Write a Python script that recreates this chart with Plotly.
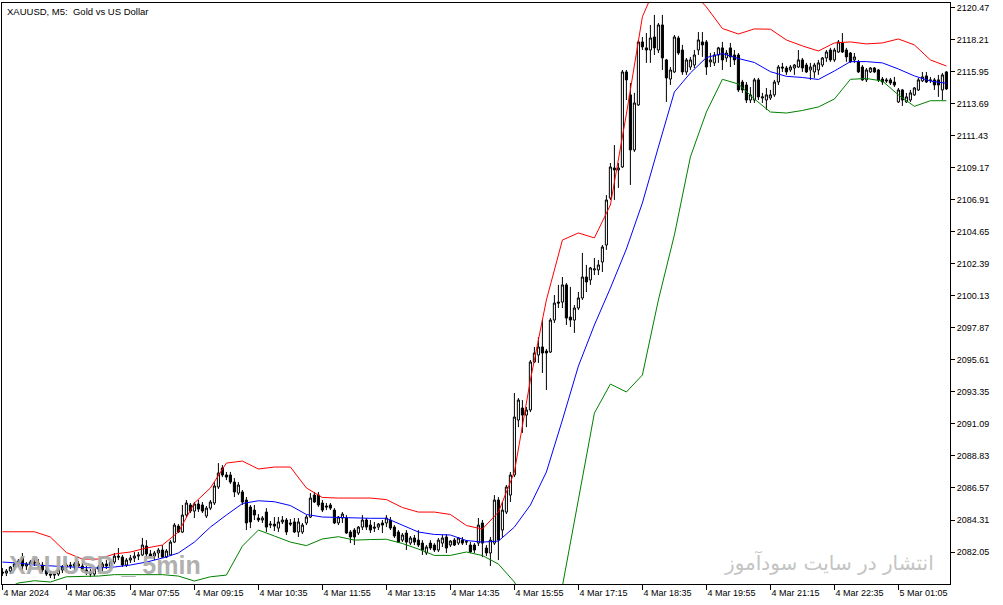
import plotly.graph_objects as go

# ---------------- data ----------------
open_ = [2080.63,2080.56,2080.71,2080.99,2081.20,2081.69,2081.06,2081.20,2081.34,2081.27,
2081.13,2080.78,2080.49,2080.42,2080.49,2080.78,2080.99,2081.13,2081.06,2081.20,
2081.06,2080.78,2080.63,2080.49,2080.85,2080.99,2081.20,2081.06,2081.34,2081.76,
2081.69,2081.13,2081.48,2081.62,2081.76,2081.84,2082.47,2081.91,2081.76,2081.98,
2082.19,2081.69,2081.84,2082.75,2083.88,2083.46,2084.66,2085.37,2084.94,2085.44,
2085.37,2084.59,2085.15,2085.51,2086.64,2087.98,2087.49,2087.49,2086.99,2086.21,
2086.29,2085.72,2085.23,2085.01,2084.45,2084.31,2084.87,2083.95,2084.02,2083.74,
2084.17,2084.31,2084.10,2084.17,2083.46,2083.46,2084.10,2084.52,2086.07,2086.07,
2085.51,2085.30,2085.37,2085.01,2084.10,2084.45,2084.45,2083.46,2083.60,2083.39,
2083.81,2084.31,2083.95,2083.81,2083.81,2084.10,2084.10,2084.31,2083.81,2083.46,
2082.89,2083.39,2082.68,2083.04,2082.89,2082.68,2081.98,2082.68,2082.54,2082.19,
2082.68,2083.11,2082.54,2082.89,2082.68,2082.89,2082.75,2082.54,2082.54,2082.68,
2084.10,2082.33,2081.98,2082.68,2085.72,2083.60,2084.87,2086.07,2087.49,2091.37,
2092.22,2091.72,2092.08,2095.47,2095.96,2096.53,2096.24,2096.17,2098.43,2099.70,
2099.70,2100.91,2098.64,2098.43,2099.28,2099.99,2101.47,2101.26,2101.97,2101.97,
2102.53,2103.73,2107.05,2109.17,2109.03,2109.24,2115.95,2114.33,2110.44,2113.62,
2118.07,2117.65,2117.50,2118.42,2117.50,2119.27,2116.80,2115.45,2115.95,2118.35,
2117.50,2115.95,2116.30,2116.44,2117.50,2118.07,2118.07,2116.66,2116.59,2117.15,
2117.65,2116.94,2117.65,2117.15,2117.15,2115.24,2115.03,2113.97,2113.97,2115.39,
2114.11,2113.97,2114.11,2114.33,2115.24,2116.30,2116.23,2116.09,2116.23,2116.30,
2116.80,2116.44,2116.09,2115.95,2116.09,2116.44,2116.94,2117.50,2116.80,2117.36,
2118.00,2117.50,2117.29,2116.80,2116.66,2116.30,2115.39,2115.95,2116.23,2116.09,
2115.45,2115.39,2115.39,2115.24,2113.83,2114.68,2113.83,2113.97,2114.33,2114.68,
2115.32,2115.67,2115.39,2115.39,2115.39,2114.68,2115.95]

high = [2080.92,2080.85,2081.06,2081.34,2081.55,2081.98,2081.34,2081.48,2081.62,2081.55,
2081.34,2081.06,2080.71,2080.63,2080.92,2081.13,2081.27,2081.34,2081.34,2081.41,
2081.27,2081.06,2080.85,2080.92,2081.13,2081.34,2081.48,2081.41,2081.98,2082.33,
2081.84,2081.62,2081.84,2082.05,2082.05,2083.04,2082.89,2082.19,2082.12,2082.33,
2082.54,2082.26,2082.89,2084.10,2084.02,2085.37,2085.72,2085.51,2085.58,2085.72,
2085.58,2085.30,2085.72,2086.99,2088.33,2088.19,2087.70,2087.70,2087.27,2086.99,
2086.43,2085.93,2085.37,2085.37,2084.73,2084.59,2085.15,2084.24,2084.52,2084.52,
2084.59,2084.45,2084.38,2084.45,2084.45,2084.10,2084.66,2086.21,2086.29,2086.29,
2085.72,2085.51,2085.51,2085.15,2084.59,2084.87,2084.66,2083.60,2083.74,2083.88,
2084.66,2084.45,2084.31,2084.17,2084.10,2084.31,2084.66,2084.52,2083.95,2083.60,
2083.39,2083.60,2083.18,2083.25,2083.60,2082.89,2082.54,2082.89,2082.68,2083.04,
2083.25,2083.32,2082.89,2083.04,2083.11,2083.11,2082.89,2082.75,2082.68,2084.45,
2084.31,2082.54,2083.11,2086.07,2085.93,2085.58,2086.78,2087.70,2093.28,2092.92,
2092.78,2092.29,2095.61,2096.53,2097.23,2098.43,2096.39,2098.57,2100.20,2100.91,
2101.47,2101.05,2100.77,2099.49,2100.41,2103.17,2102.32,2102.18,2102.81,2102.67,
2103.73,2107.26,2109.52,2110.79,2109.52,2116.09,2116.09,2115.17,2114.47,2118.21,
2118.42,2118.70,2119.27,2119.98,2119.41,2119.98,2116.87,2116.30,2118.56,2118.50,
2117.86,2116.94,2117.01,2117.50,2118.77,2118.77,2118.21,2117.29,2117.36,2117.72,
2118.07,2117.50,2118.00,2117.50,2117.29,2115.39,2115.24,2114.89,2115.53,2115.53,
2114.47,2114.82,2114.68,2115.39,2116.44,2116.59,2116.37,2116.44,2116.51,2117.50,
2116.94,2116.59,2116.59,2116.59,2116.80,2117.01,2117.50,2117.65,2117.65,2118.21,
2118.70,2117.65,2117.36,2117.29,2116.80,2116.44,2116.23,2116.30,2116.30,2116.16,
2115.60,2115.53,2115.53,2115.60,2114.82,2114.75,2114.47,2114.68,2114.89,2115.53,
2115.95,2115.95,2115.60,2115.53,2115.74,2115.88,2116.02]

low = [2080.35,2080.35,2080.49,2080.78,2080.99,2080.78,2080.78,2080.99,2081.06,2080.92,
2080.63,2080.35,2080.21,2080.14,2080.35,2080.56,2080.78,2080.85,2080.78,2080.92,
2080.63,2080.42,2080.28,2080.35,2080.63,2080.71,2080.85,2080.85,2081.20,2081.48,
2080.99,2080.99,2081.27,2081.34,2081.48,2081.76,2081.69,2081.62,2081.48,2081.62,
2081.62,2081.62,2081.76,2082.68,2083.39,2083.39,2084.52,2084.80,2084.45,2084.87,
2084.80,2084.45,2085.01,2085.37,2086.50,2087.34,2087.13,2086.85,2085.93,2086.07,
2085.37,2083.60,2083.74,2084.31,2084.17,2084.10,2083.46,2083.74,2083.53,2083.46,
2084.02,2083.25,2083.88,2083.39,2083.11,2083.32,2083.95,2084.45,2085.51,2085.23,
2084.87,2085.01,2085.01,2084.02,2083.95,2084.10,2083.32,2082.68,2082.54,2083.25,
2083.60,2083.60,2083.39,2083.46,2083.60,2083.39,2083.81,2083.60,2083.04,2082.68,
2082.75,2082.19,2082.54,2082.54,2082.40,2081.84,2081.84,2082.19,2082.05,2082.05,
2082.40,2081.98,2082.40,2082.47,2082.54,2082.54,2082.54,2081.98,2081.98,2082.47,
2081.69,2081.76,2081.06,2082.54,2081.48,2083.11,2084.73,2085.58,2087.34,2090.87,
2090.45,2090.87,2091.93,2095.40,2095.40,2094.69,2093.49,2096.10,2098.22,2099.28,
2099.28,2098.08,2097.94,2097.52,2099.14,2099.85,2100.41,2100.91,2101.61,2101.61,
2101.82,2103.38,2106.91,2106.91,2107.76,2109.17,2113.97,2107.97,2110.30,2113.55,
2117.50,2116.59,2116.59,2117.15,2117.29,2116.09,2113.83,2115.03,2115.88,2117.15,
2115.74,2115.74,2116.09,2116.23,2117.15,2117.01,2115.74,2116.30,2116.37,2116.59,
2116.09,2116.66,2116.30,2116.44,2114.54,2114.47,2113.76,2113.76,2113.76,2113.97,
2113.76,2113.27,2113.97,2114.19,2115.03,2115.95,2115.74,2115.95,2115.74,2116.23,
2115.95,2115.88,2115.39,2115.53,2115.74,2116.30,2116.66,2116.66,2116.66,2117.29,
2117.29,2116.66,2116.59,2116.59,2115.88,2115.32,2115.24,2115.88,2115.88,2115.24,
2115.03,2115.17,2115.03,2114.89,2113.76,2113.55,2113.76,2113.83,2114.26,2114.61,
2115.24,2115.17,2115.17,2114.68,2114.19,2113.97,2114.68]

close = [2080.56,2080.71,2080.99,2081.20,2081.41,2081.06,2081.20,2081.34,2081.27,2081.13,
2080.78,2080.49,2080.42,2080.49,2080.78,2080.99,2081.13,2081.06,2081.20,2081.06,
2080.78,2080.63,2080.49,2080.85,2080.99,2081.20,2081.06,2081.34,2081.76,2081.69,
2081.13,2081.48,2081.62,2081.76,2081.84,2082.54,2081.91,2081.76,2081.98,2082.19,
2081.69,2082.12,2082.75,2083.95,2083.46,2084.66,2085.51,2084.94,2085.44,2085.08,
2084.94,2085.15,2085.58,2086.71,2087.63,2087.49,2087.34,2086.99,2086.29,2086.78,
2085.58,2084.10,2084.17,2084.66,2084.31,2084.45,2083.81,2084.02,2083.88,2084.17,
2084.31,2083.46,2084.02,2083.46,2084.17,2083.95,2084.52,2085.86,2085.58,2085.37,
2085.01,2085.23,2085.15,2084.10,2084.52,2084.73,2083.39,2083.11,2083.11,2083.81,
2084.31,2083.81,2083.60,2083.74,2084.02,2083.95,2084.45,2083.74,2083.18,2082.75,
2083.25,2082.75,2083.04,2082.75,2082.54,2082.19,2082.40,2082.33,2082.19,2082.89,
2083.04,2082.33,2082.82,2082.54,2083.04,2082.68,2082.78,2082.05,2082.19,2083.95,
2082.68,2081.98,2082.89,2085.72,2082.89,2085.01,2086.64,2087.49,2091.58,2092.78,
2091.72,2092.08,2095.47,2096.10,2096.53,2096.10,2096.10,2098.43,2099.63,2099.63,
2100.91,2098.57,2098.43,2099.28,2099.99,2101.47,2101.12,2102.11,2102.04,2102.32,
2103.59,2106.91,2109.24,2109.03,2109.17,2115.95,2115.39,2110.44,2113.76,2118.07,
2117.72,2117.50,2118.35,2117.65,2119.27,2116.94,2115.53,2116.09,2118.42,2117.29,
2115.95,2116.80,2116.80,2117.15,2118.21,2117.86,2116.30,2116.80,2117.15,2117.65,
2116.80,2117.29,2117.01,2116.80,2114.68,2114.68,2113.97,2114.33,2115.39,2114.19,
2114.19,2114.33,2114.33,2115.24,2116.30,2116.23,2115.95,2116.30,2116.44,2116.80,
2116.23,2115.95,2116.30,2116.44,2116.59,2116.94,2117.36,2116.80,2117.50,2118.07,
2117.36,2117.01,2116.66,2117.01,2115.95,2115.39,2116.09,2116.23,2115.95,2115.39,
2115.24,2115.32,2115.17,2115.03,2114.68,2113.97,2114.19,2114.47,2114.82,2115.39,
2115.60,2115.24,2115.36,2115.03,2115.03,2115.74,2114.75]

bar_index = list(range(len(close)))

# Bollinger band readings (every 4th bar)
band_index = [0,4,8,12,16,20,24,28,32,36,40,44,48,52,56,60,64,68,72,76,80,84,88,92,96,
100,104,108,112,116,120,124,128,132,136,140,144,148,152,156,160,164,168,172,176,
180,184,188,192,196,200,204,208,212,216,220,224,228,232,236]

band_upper = [2083.48,2083.48,2083.48,2083.11,2082.01,2081.55,2081.55,2081.91,2082.05,2082.33,
2082.54,2083.46,2085.51,2086.57,2088.33,2088.47,2087.91,2088.05,2088.05,2086.57,
2085.90,2085.86,2085.86,2085.86,2085.75,2085.19,2084.87,2084.87,2084.70,2083.92,
2083.67,2084.87,2087.70,2094.20,2099.85,2104.08,2104.58,2104.23,2106.56,2112.98,
2119.85,2122.45,2122.80,2121.74,2120.54,2119.02,2118.63,2118.99,2118.97,2118.21,
2117.79,2117.43,2118.00,2118.07,2117.93,2118.00,2118.28,2117.86,2116.80,2116.37]

band_middle = [2081.34,2081.27,2081.13,2081.06,2080.99,2080.95,2080.92,2080.99,2081.13,2081.34,
2081.62,2081.98,2082.75,2083.81,2084.66,2085.47,2085.67,2085.60,2085.33,2084.70,
2084.52,2084.48,2084.43,2084.43,2084.43,2083.92,2083.46,2083.29,2083.25,2082.86,
2082.75,2082.82,2083.81,2085.37,2087.70,2091.37,2095.18,2098.08,2100.69,2103.45,
2106.70,2110.65,2114.54,2115.88,2116.97,2117.25,2116.90,2116.62,2115.97,2115.64,
2115.56,2115.42,2116.02,2116.68,2116.68,2116.59,2116.16,2115.67,2115.31,2115.15]

band_lower = [2079.36,2079.86,2080.02,2079.93,2080.30,2080.30,2080.35,2080.45,2080.45,2080.45,
2080.45,2080.35,2080.00,2080.30,2080.42,2082.47,2083.60,2083.18,2082.75,2082.50,
2082.97,2083.13,2082.89,2082.93,2082.95,2082.65,2082.26,2081.81,2081.81,2082.05,
2081.80,2081.20,2079.93,2077.95,2077.24,2079.64,2085.86,2091.86,2093.91,2093.35,
2094.55,2099.85,2104.44,2109.95,2113.12,2115.43,2115.10,2114.04,2113.12,2113.05,
2113.23,2113.48,2114.04,2115.43,2115.49,2115.31,2114.33,2113.52,2113.92,2113.92]

time_tick_index = [0,16,32,48,64,80,96,112,128,144,160,176,192,208,224]
time_tick_labels = ["4 Mar 2024","4 Mar 06:35","4 Mar 07:55","4 Mar 09:15","4 Mar 10:35",
                    "4 Mar 11:55","4 Mar 13:15","4 Mar 14:35","4 Mar 15:55","4 Mar 17:15",
                    "4 Mar 18:35","4 Mar 19:55","4 Mar 21:15","4 Mar 22:35","5 Mar 01:05"]
price_ticks = [2082.05,2084.31,2086.57,2088.83,2091.09,2093.35,2095.61,2097.87,2100.13,
               2102.39,2104.65,2106.91,2109.17,2111.43,2113.69,2115.95,2118.21,2120.47]
price_range = [2079.79, 2120.82]

title_text = "XAUUSD, M5:  Gold vs US Dollar"
watermark_left = "XAUUSD _ 5min"
watermark_right = "انتشار در سایت سودآموز"

# ---------------- figure ----------------
fig = go.Figure()
fig.add_trace(go.Candlestick(
    x=bar_index, open=open_, high=high, low=low, close=close,
    increasing=dict(line=dict(color="black", width=1), fillcolor="white"),
    decreasing=dict(line=dict(color="black", width=1), fillcolor="black"),
    whiskerwidth=0, hoverinfo="skip", showlegend=False))

for vals, col in ((band_upper, "#ff0000"), (band_middle, "#0000ff"), (band_lower, "#008000")):
    fig.add_trace(go.Scatter(x=band_index, y=vals, mode="lines",
                             line=dict(color=col, width=1), hoverinfo="skip",
                             showlegend=False))

tick_font = dict(family="Liberation Sans, Arial, sans-serif", size=9, color="black")

fig.update_layout(
    width=1003, height=605,
    margin=dict(l=2, r=53, t=3, b=21, autoexpand=False),
    paper_bgcolor="white", plot_bgcolor="white",
    boxgap=0.25,
    showlegend=False,
    xaxis=dict(range=[-0.1, 236.9], rangeslider=dict(visible=False),
               tickmode="array", tickvals=time_tick_index, ticktext=time_tick_labels,
               ticks="outside", ticklen=5, tickcolor="black", tickwidth=1,
               ticklabelposition="outside right", automargin=False,
               showgrid=False, zeroline=False,
               showline=True, linecolor="black", linewidth=1, mirror=True,
               tickfont=tick_font, fixedrange=True),
    yaxis=dict(range=price_range, side="right", automargin=False,
               tickmode="array", tickvals=price_ticks,
               ticktext=["%.2f" % v for v in price_ticks],
               ticks="outside", ticklen=4, tickcolor="black", tickwidth=1,
               showgrid=False, zeroline=False,
               showline=True, linecolor="black", linewidth=1, mirror=True,
               tickfont=tick_font, fixedrange=True),
)

fig.add_annotation(text=title_text, xref="paper", yref="paper", x=0.003, y=1,
                   xanchor="left", yanchor="top", yshift=-1, showarrow=False,
                   font=dict(family="Liberation Sans, Arial, sans-serif", size=9.5, color="black"))

fig.add_annotation(text=watermark_left, xref="paper", yref="paper",
                   x=0.005, y=0.0, xanchor="left", yanchor="bottom", yshift=3,
                   showarrow=False, opacity=0.92,
                   font=dict(family="Liberation Sans, Arial, sans-serif", weight=700,
                             size=25, color="#aaaaaa"))

fig.add_annotation(text=watermark_right, xref="paper", yref="paper",
                   x=0.985, y=0.0, xanchor="right", yanchor="bottom", yshift=7,
                   showarrow=False,
                   font=dict(family="DejaVu Sans, sans-serif", size=20, color="#c4c4c4"))

fig.write_html("out.html", config={"displayModeBar": False},
               post_script="document.body.style.margin='0px';document.body.style.overflow='hidden';")
